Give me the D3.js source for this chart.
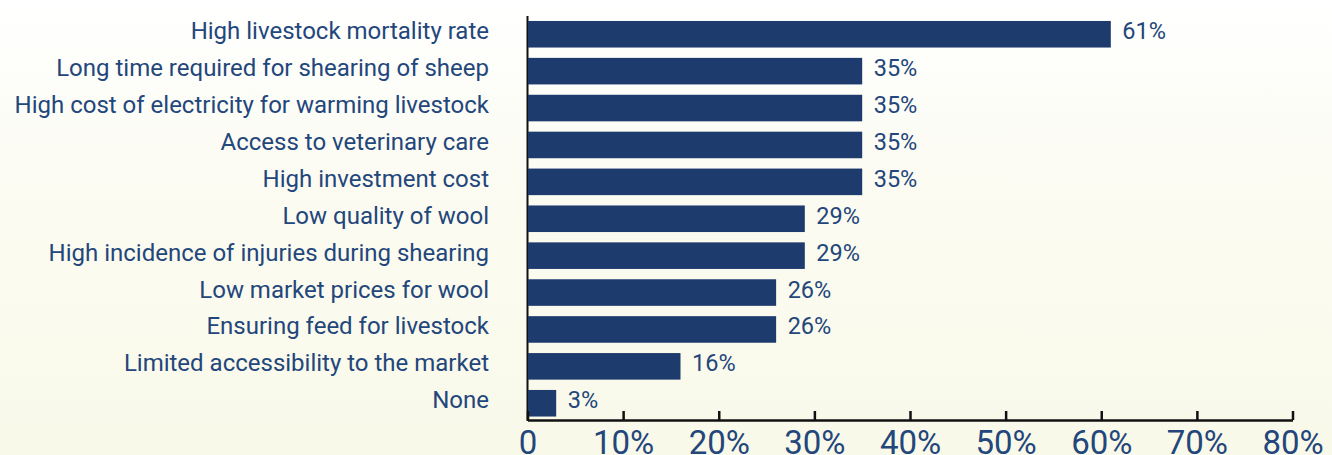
<!DOCTYPE html>
<html>
<head>
<meta charset="utf-8">
<script src="https://cdn.jsdelivr.net/npm/d3@7/dist/d3.min.js"></script>
<style>
  html, body { margin: 0; padding: 0; }
  body { width: 1332px; height: 455px; overflow: hidden; }
  svg { display: block; font-family: Roboto, "Noto Sans", sans-serif; }
</style>
</head>
<body>
<svg id="chart" width="1332" height="455"></svg>
<script>
// Challenges reported by livestock farmers (share of respondents)
const categories = [
  "High livestock mortality rate",
  "Long time required for shearing of sheep",
  "High cost of electricity for warming livestock",
  "Access to veterinary care",
  "High investment cost",
  "Low quality of wool",
  "High incidence of injuries during shearing",
  "Low market prices for wool",
  "Ensuring feed for livestock",
  "Limited accessibility to the market",
  "None"
];
const shares = [61, 35, 35, 35, 35, 29, 29, 26, 26, 16, 3];
const tickValues = [0, 10, 20, 30, 40, 50, 60, 70, 80];
const tickLabels = ["0", "10%", "20%", "30%", "40%", "50%", "60%", "70%", "80%"];

const W = 1332, H = 455;
const barColor = "#1e3b6d";
const textColor = "#23467b";

const svg = d3.select("#chart");

// soft vertical background wash
const defs = svg.append("defs");
const grad = defs.append("linearGradient")
  .attr("id", "bg").attr("x1", 0).attr("y1", 0).attr("x2", 0).attr("y2", 1);
grad.append("stop").attr("offset", "0%").attr("stop-color", "#ffffff");
grad.append("stop").attr("offset", "45%").attr("stop-color", "#fbfbf1");
grad.append("stop").attr("offset", "100%").attr("stop-color", "#f9f9ea");
svg.append("rect").attr("width", W).attr("height", H).attr("fill", "url(#bg)");

const x = d3.scaleLinear().domain([0, 80]).range([527.5, 1292.5]);
const y = d3.scaleBand().domain(categories).range([15.8, 421.7])
  .paddingInner(0.28).paddingOuter(0.14);

// left axis line
svg.append("line")
  .attr("x1", x(0)).attr("x2", x(0))
  .attr("y1", 16).attr("y2", 421)
  .attr("stroke", "#111").attr("stroke-width", 2);

// bars
svg.append("g").selectAll("rect")
  .data(shares)
  .join("rect")
  .attr("x", x(0) + 0.5)
  .attr("y", (d, i) => y(categories[i]))
  .attr("width", d => x(d) - x(0) - 0.5)
  .attr("height", y.bandwidth())
  .attr("fill", barColor);

// category labels
svg.append("g").selectAll("text")
  .data(categories)
  .join("text")
  .attr("x", 489)
  .attr("y", d => y(d) + y.bandwidth() / 2 + 5)
  .attr("text-anchor", "end")
  .attr("font-size", 24)
  .attr("fill", textColor)
  .text(d => d);

// value labels
svg.append("g").selectAll("text")
  .data(shares)
  .join("text")
  .attr("x", d => x(d) + 11.5)
  .attr("y", (d, i) => y(categories[i]) + y.bandwidth() / 2 + 5)
  .attr("font-size", 23.5)
  .attr("fill", textColor)
  .text(d => d + "%");

// bottom axis with inward ticks
const xAxis = d3.axisBottom(x)
  .tickValues(tickValues)
  .tickFormat((d, i) => tickLabels[i])
  .tickSizeInner(-9)
  .tickSizeOuter(0)
  .tickPadding(20);

const gx = svg.append("g")
  .attr("transform", "translate(0,420)")
  .call(xAxis);
gx.select(".domain").attr("stroke", "#111").attr("stroke-width", 2.5);
gx.selectAll(".tick line").attr("stroke", "#111").attr("stroke-width", 2.5);
gx.selectAll(".tick text")
  .attr("font-family", "Roboto, 'Noto Sans', sans-serif")
  .attr("font-size", 33)
  .attr("fill", textColor)
  .attr("dy", null)
  .attr("y", 34);
</script>
</body>
</html>
